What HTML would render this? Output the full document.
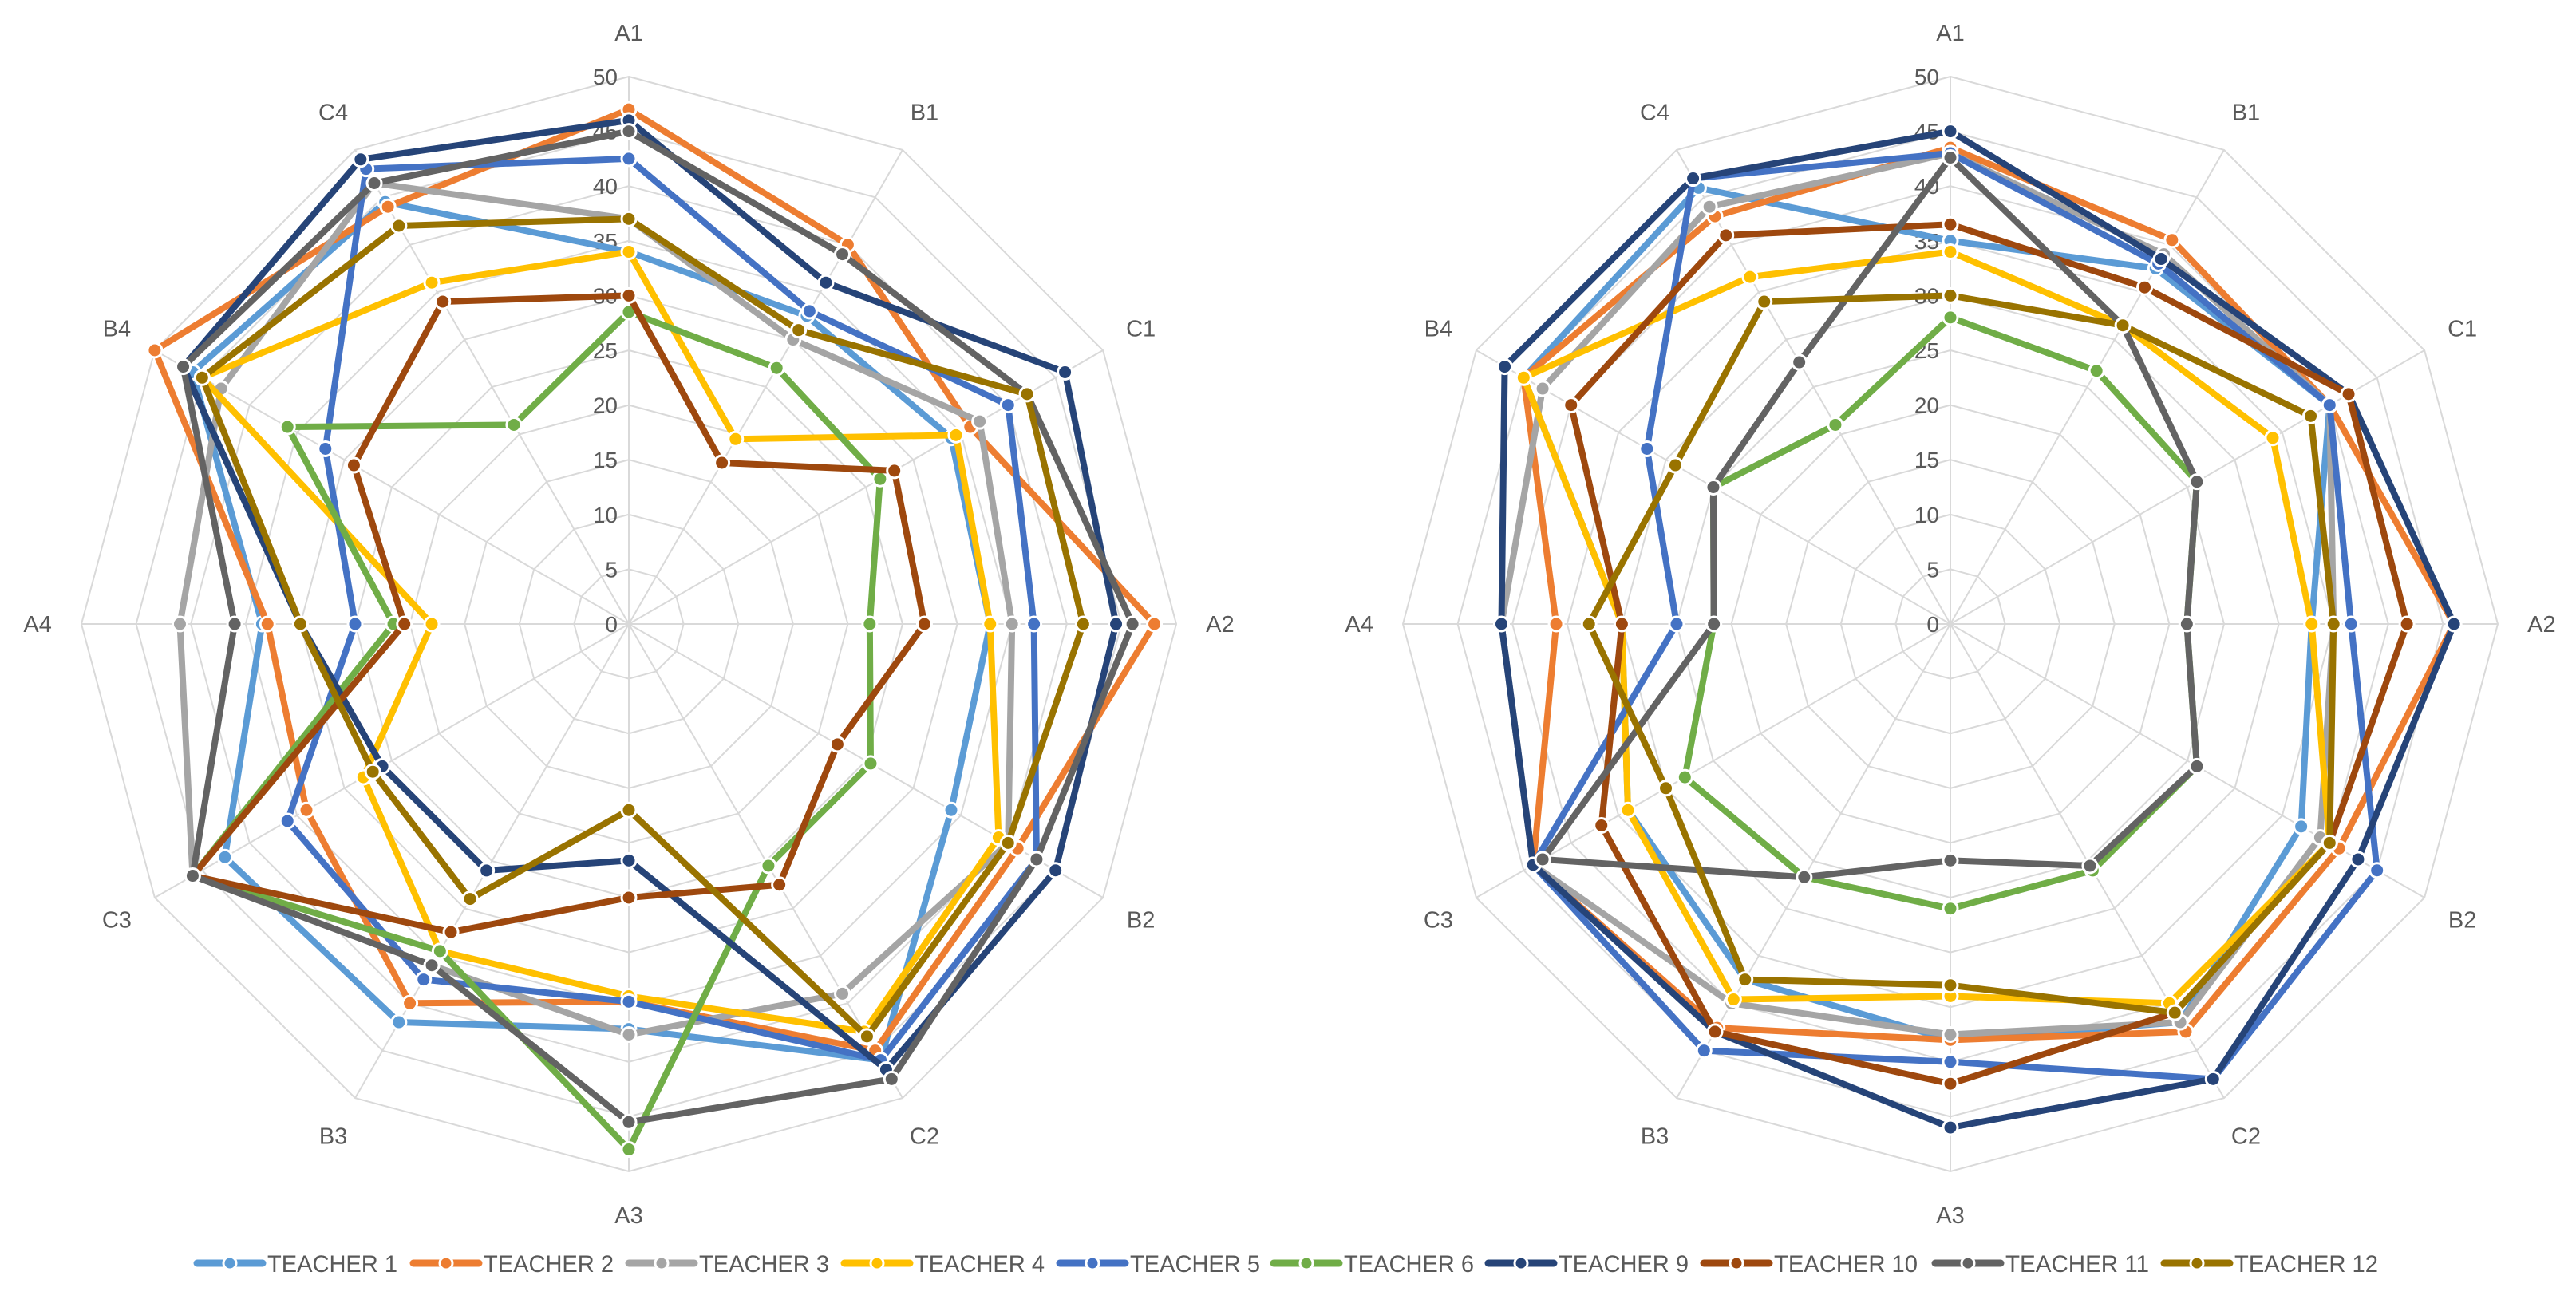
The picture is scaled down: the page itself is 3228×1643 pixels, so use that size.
<!DOCTYPE html>
<html><head><meta charset="utf-8"><style>
body{margin:0;background:#fff;width:3228px;height:1643px;overflow:hidden;font-family:"Liberation Sans",sans-serif;}
svg{position:absolute;left:0;top:0}
</style></head><body>
<svg id="chart" width="3228" height="1643" viewBox="0 0 3228 1643"></svg>
<script>
const axes=["A1","B1","C1","A2","B2","C2","A3","B3","C3","A4","B4","C4"];
const ticks=[0,5,10,15,20,25,30,35,40,45,50];
const seriesNames=["TEACHER 1","TEACHER 2","TEACHER 3","TEACHER 4","TEACHER 5","TEACHER 6","TEACHER 9","TEACHER 10","TEACHER 11","TEACHER 12"];
const colors=["#5B9BD5","#ED7D31","#A5A5A5","#FFC000","#4472C4","#70AD47","#264478","#9E480E","#636363","#997300"];
const left1=[34,32.5,34,33,34,46,37,42,42.6,33.5,46,44.5];
const left2=[47,40,36,48,41,45,34.5,40,34,33,50,44];
const left3=[37,30,37,35,40,39,37.5,36,46,41,43,46.5];
const left4=[34,19.5,34.5,33,39,43,34,34.5,28,18,45,36];
const left5=[42.5,33,40,37,43,46,34.5,37.5,36,25,32,48];
const left6=[28.5,27,26.5,22,25.5,25.5,48,34.5,46,21.5,36,21];
const left9=[46,36,46,44.5,45,47,21.6,26,26,30,47,49];
const left10=[30,17,28,27,22,27.5,25,32.5,46,20.5,29,34];
const left11=[45,39,42,46,43,48,45.5,36,46,36,47,46.5];
const left12=[37,31,42,41.5,40,43.5,17,29,27,30,45,42];
const right1=[35,37.5,40,33,37,42,38,37.5,34,30,45,46];
const right2=[43.5,40.5,40,46,41,43,38,42.6,44,36,45,43];
const right3=[43,39,40,35,39,42,37.5,40,44,41,43,44];
const right4=[34,31.5,34,33,40,40,34,39.6,34,30,45,36.6];
const right5=[43,38,40,36.6,45,48,40,45,44,25,32,47];
const right6=[28,26.7,26,21.6,26,26,26,26.7,28,21.6,25,21];
const right9=[45,38.5,42,46,43,48,46,43,44,41,47,47];
const right10=[36.5,35.5,42,41.7,40,41,42,43,36.8,30,40,41];
const right11=[42.6,31.5,26,21.6,26,25.5,21.6,26.7,43,21.6,25,27.6];
const right12=[30,31.5,38,35,40,41,33,37.5,30,33,29,34];
const leftData=[left1,left2,left3,left4,left5,left6,left9,left10,left11,left12];
const rightData=[right1,right2,right3,right4,right5,right6,right9,right10,right11,right12];

const NS="http://www.w3.org/2000/svg";
const svg=document.getElementById("chart");
const R=686, MAX=50;
function mk(tag,attrs,parent){const e=document.createElementNS(NS,tag);for(const k in attrs)e.setAttribute(k,attrs[k]);(parent||svg).appendChild(e);return e;}
function pt(cx,cy,i,v){const a=i*Math.PI*2/axes.length;const r=v/MAX*R;return [cx+r*Math.sin(a),cy-r*Math.cos(a)];}
function drawRadar(cx,cy,data,name){
  const g=mk("g",{});
  
  
  ticks.forEach(t=>{if(t===0)return;
    const p=axes.map((_,i)=>pt(cx,cy,i,t).join(",")).join(" ");
    const ring=mk("polygon",{points:p,fill:"none",stroke:"#D9D9D9","stroke-width":2},g);
    
    
  });
  axes.forEach((a,i)=>{const [x,y]=pt(cx,cy,i,MAX);
    const l=mk("line",{x1:cx,y1:cy,x2:x,y2:y,stroke:"#D9D9D9","stroke-width":2},g);
    
    
    const [lx,ly]=pt(cx,cy,i,MAX*1.08);
    const t=mk("text",{x:lx,y:ly+10,"text-anchor":"middle","font-size":29,fill:"#595959"},g);
    t.textContent=a;
    
    
  });
  ticks.forEach(t=>{const [x,y]=pt(cx,cy,0,t);
    const tx=mk("text",{x:x-14,y:y+10,"text-anchor":"end","font-size":28,fill:"#595959"},g);
    tx.textContent=t;
    
    
  });
  data.forEach((vals,s)=>{
    const p=vals.map((v,i)=>pt(cx,cy,i,v).join(",")).join(" ");
    const pl=mk("polygon",{points:p,fill:"none",stroke:colors[s],"stroke-width":8,"stroke-linejoin":"round"},g);
    
    
    vals.forEach((v,i)=>{const [x,y]=pt(cx,cy,i,v);
      const c=mk("circle",{cx:x,cy:y,r:9,fill:colors[s],stroke:"#fff","stroke-width":3},g);
      
      
    });
  });
}
drawRadar(788,782,leftData,"left-radar");
drawRadar(2444,782,rightData,"right-radar");
// legend
const legX=[243,514,784,1054,1324,1592,1861,2131,2421,2708];
seriesNames.forEach((n,s)=>{
  const g=mk("g",{});
  
  
  const x=legX[s], y=1583;
  mk("line",{x1:x+4,y1:y,x2:x+86,y2:y,stroke:colors[s],"stroke-width":9,"stroke-linecap":"round"},g);
  mk("circle",{cx:x+45,cy:y,r:8,fill:colors[s],stroke:"#fff","stroke-width":3},g);
  const t=mk("text",{x:x+92,y:y+11,"font-size":30,fill:"#595959",textLength:(n.length>9?180:163),lengthAdjust:"spacingAndGlyphs"},g);
  t.textContent=n;
});
</script>
</body></html>
